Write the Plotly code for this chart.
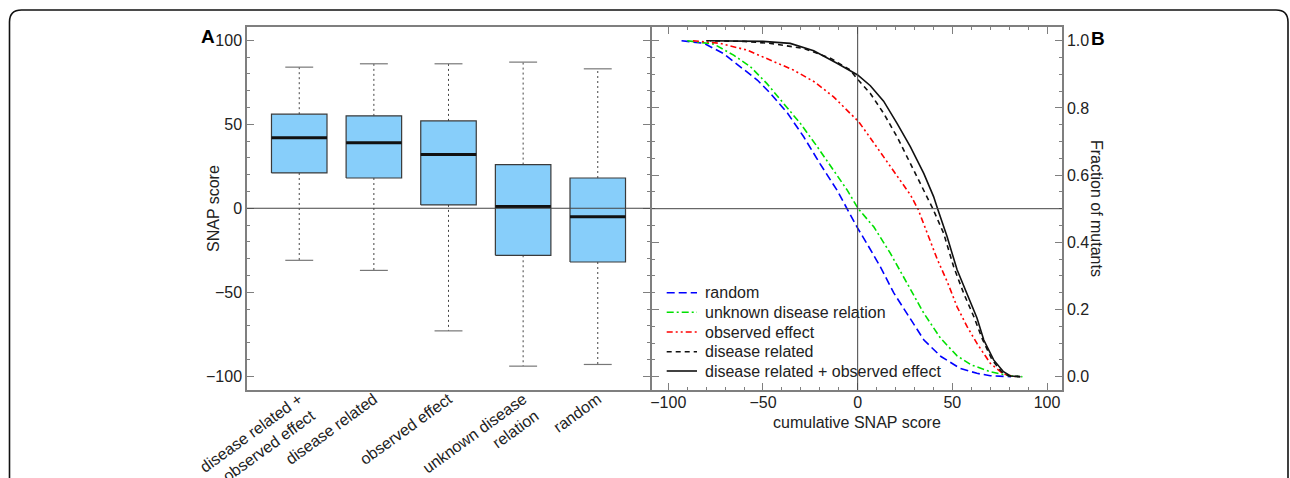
import plotly.graph_objects as go

# ---------------- data ----------------
categories = ["disease related +<br>observed effect", "disease related", "observed effect",
              "unknown disease<br>relation", "random"]
upper_whisker = [84, 86, 86, 87, 83]
q3_values = [56, 55, 52, 26, 18]
median_values = [42, 39, 32, 1, -5]
q1_values = [21, 18, 2, -28, -32]
lower_whisker = [-31, -37, -73, -94, -93]

random_x = [-93, -81, -71, -62, -53, -46, -37, -28.5, -20, -11, -5.6, 0, 5, 12, 19, 28, 35, 44, 54, 63, 70, 81]
random_f = [1.0, 0.992, 0.962, 0.923, 0.883, 0.843, 0.784, 0.714, 0.635, 0.556, 0.50, 0.442, 0.395,
            0.327, 0.250, 0.169, 0.109, 0.06, 0.025, 0.01, 0.003, 0.0]

unknown_x = [-90, -76, -65.5, -56.7, -48, -39, -30.3, -21.4, -12.7, -5.6, 0.3, 8.5, 17.3, 26.1, 34.9,
             43.7, 52.5, 60, 70, 80, 87]
unknown_f = [1.0, 0.99, 0.957, 0.923, 0.873, 0.814, 0.754, 0.685, 0.615, 0.556, 0.50, 0.446, 0.367,
             0.278, 0.189, 0.115, 0.062, 0.035, 0.015, 0.003, 0.0]

observed_x = [-87, -72.5, -58.4, -46, -34, -23, -12.7, -4, 0.5, 5, 13.7, 22.6, 28, 32, 36.7, 42, 47.5,
              52.5, 57.8, 63, 70, 77, 83]
observed_f = [1.0, 0.992, 0.972, 0.943, 0.913, 0.878, 0.833, 0.784, 0.759, 0.724, 0.655, 0.585, 0.54,
              0.497, 0.43, 0.35, 0.28, 0.208, 0.149, 0.099, 0.04, 0.008, 0.0]

disease_x = [-80, -60, -46, -28.5, -14.4, -4, 0, 6.7, 13.7, 20.8, 27.8, 34.9, 39.7, 45.4, 50.7, 56,
             61.3, 66, 71, 76, 80, 86]
disease_f = [1.0, 0.998, 0.992, 0.977, 0.948, 0.913, 0.885, 0.843, 0.784, 0.714, 0.635, 0.556, 0.50,
             0.427, 0.327, 0.248, 0.179, 0.11, 0.05, 0.015, 0.002, 0.0]

combined_x = [-78, -50, -35.6, -23.2, -10.9, 0, 6.7, 13.7, 20.8, 27.8, 34.9, 40.1, 42.2, 47.2, 52.5,
              57.8, 63, 66.6, 71.8, 77, 80.7, 86]
combined_f = [1.0, 0.998, 0.992, 0.970, 0.933, 0.898, 0.866, 0.820, 0.754, 0.685, 0.605, 0.536, 0.50,
              0.417, 0.318, 0.248, 0.175, 0.109, 0.05, 0.015, 0.002, 0.0]

legend_names = ["random", "unknown disease relation", "observed effect", "disease related",
                "disease related + observed effect"]

# ---------------- styling ----------------
FONT = "Liberation Sans, Arial, Helvetica, sans-serif"
TXT = "#222222"
AXC = "#7f7f7f"
W, H = 1290, 478
BOX_HALF = 0.372
CAP_HALF = 0.187


def px(xp):
    return xp / W


def py(yp):
    return 1 - yp / H


fig = go.Figure()

# ---------- panel A: box plot built from the quantiles ----------
positions = list(range(1, len(categories) + 1))
bx, by, mx, my, wx, wy, cx, cy = [], [], [], [], [], [], [], []
for p, lo, a, m, b, hi in zip(positions, lower_whisker, q1_values, median_values, q3_values, upper_whisker):
    bx += [p - BOX_HALF, p + BOX_HALF, p + BOX_HALF, p - BOX_HALF, p - BOX_HALF, None]
    by += [a, a, b, b, a, None]
    mx += [p - BOX_HALF, p + BOX_HALF, None]
    my += [m, m, None]
    wx += [p, p, None, p, p, None]
    wy += [b, hi, None, a, lo, None]
    cx += [p - CAP_HALF, p + CAP_HALF, None, p - CAP_HALF, p + CAP_HALF, None]
    cy += [hi, hi, None, lo, lo, None]

fig.add_trace(go.Scatter(x=wx, y=wy, mode="lines", xaxis="x", yaxis="y", showlegend=False,
                         line=dict(color="#444444", width=1, dash="2px,3px"), hoverinfo="skip"))
fig.add_trace(go.Scatter(x=cx, y=cy, mode="lines", xaxis="x", yaxis="y", showlegend=False,
                         line=dict(color="#777777", width=1.2), hoverinfo="skip"))
fig.add_trace(go.Scatter(x=bx, y=by, mode="lines", xaxis="x", yaxis="y", showlegend=False,
                         fill="toself", fillcolor="#87CEFA",
                         line=dict(color="#3a3a3a", width=1.2), hoverinfo="skip"))
fig.add_trace(go.Scatter(x=mx, y=my, mode="lines", xaxis="x", yaxis="y", showlegend=False,
                         line=dict(color="#111111", width=3), hoverinfo="skip"))

# ---------- panel B: cumulative curves ----------
styles = [("#0000FF", "8px,4px"), ("#00E000", "7px,3px,2px,3px"),
          ("#FF0000", "6px,3px,2px,3px,2px,3px"), ("#111111", "5px,4px"), ("#111111", "solid")]
series = [(random_x, random_f), (unknown_x, unknown_f), (observed_x, observed_f),
          (disease_x, disease_f), (combined_x, combined_f)]
for name, (xs, fs), (col, dash) in zip(legend_names, series, styles):
    fig.add_trace(go.Scatter(x=xs, y=fs, mode="lines", name=name, xaxis="x2", yaxis="y2",
                             showlegend=False, line=dict(color=col, width=1.6, dash=dash)))

xdomA = [247 / W, 650 / W]
xdomB = [652 / W, 1062 / W]
ydom = [1 - 390 / H, 1 - 27 / H]

tickfont = dict(family=FONT, size=16, color=TXT)

fig.update_layout(
    width=W, height=H,
    margin=dict(l=0, r=0, t=0, b=0),
    paper_bgcolor="white", plot_bgcolor="white",
    font=dict(family=FONT, size=16, color=TXT),
    showlegend=False,
    xaxis=dict(domain=xdomA, range=[0.3, 5.7], tickmode="array", tickvals=positions,
               ticktext=categories, tickangle=-36, ticks="", showgrid=False, zeroline=False,
               showline=True, linecolor=AXC, linewidth=1.5, mirror=True, tickfont=tickfont,
               ticklabelstandoff=-8, automargin=False),
    yaxis=dict(domain=ydom, range=[-108.2, 107.9], dtick=50, ticks="inside", ticklen=7,
               tickcolor=AXC, tickwidth=1.2, showgrid=False, zeroline=False,
               showline=True, linecolor=AXC, linewidth=1.5, mirror="allticks",
               minor=dict(dtick=10, ticks="inside", ticklen=3, tickcolor=AXC, showgrid=False),
               tickfont=tickfont, automargin=False),
    xaxis2=dict(domain=xdomB, anchor="y2", range=[-108.6, 107.9], dtick=50, ticks="inside", ticklen=7,
                tickcolor=AXC, tickwidth=1.2, showgrid=False, zeroline=False,
                showline=True, linecolor=AXC, linewidth=1.5, mirror="allticks",
                minor=dict(dtick=10, ticks="inside", ticklen=3, tickcolor=AXC, showgrid=False),
                tickfont=tickfont, ticklabelstandoff=-3, automargin=False),
    yaxis2=dict(domain=ydom, anchor="x2", side="right", range=[-0.0396, 1.0408], dtick=0.2,
                tickformat=".1f", ticks="inside", ticklen=7, tickcolor=AXC, tickwidth=1.2,
                showgrid=False, zeroline=False, showline=True, linecolor=AXC, linewidth=1.5,
                mirror="allticks",
                minor=dict(dtick=0.05, ticks="inside", ticklen=3, tickcolor=AXC, showgrid=False),
                tickfont=tickfont, automargin=False),
)

# reference lines
fig.add_shape(type="line", xref="x domain", yref="y", x0=0, x1=1, y0=0, y1=0,
              line=dict(color="#444444", width=1))
fig.add_shape(type="line", xref="x2 domain", yref="y2", x0=0, x1=1, y0=0.5, y1=0.5,
              line=dict(color="#444444", width=1))
fig.add_shape(type="line", xref="x2", yref="y2 domain", x0=0, x1=0, y0=0, y1=1,
              line=dict(color="#444444", width=1))

# legend (drawn manually to match compact row spacing)
legend_rows = [292.7, 312.3, 332.0, 351.7, 371.0]
for name, (col, dash), yrow in zip(legend_names, styles, legend_rows):
    fig.add_shape(type="line", xref="paper", yref="paper", x0=px(666.7), x1=px(697),
                  y0=py(yrow), y1=py(yrow), line=dict(color=col, width=1.6, dash=dash))
    fig.add_annotation(text=name, xref="paper", yref="paper", x=px(703.5), y=py(yrow),
                       xanchor="left", yanchor="middle", showarrow=False,
                       font=dict(family=FONT, size=16, color=TXT))

# outer rounded frame (paper coordinates over the whole figure)
frame = (f"M {px(9.5)},{py(478)} L {px(9.5)},{py(22)} Q {px(9.5)},{py(10)} {px(21.5)},{py(10)} "
         f"L {px(1276)},{py(10)} Q {px(1288)},{py(10)} {px(1288)},{py(22)} L {px(1288)},{py(478)}")
fig.add_shape(type="path", xref="paper", yref="paper", path=frame,
              line=dict(color="#111111", width=1.6))

# titles and panel letters
ann = dict(xref="paper", yref="paper", showarrow=False, xanchor="center", yanchor="middle")
fig.add_annotation(text="SNAP score", x=px(213), y=py(209), textangle=-90,
                   font=dict(family=FONT, size=16, color=TXT), **ann)
fig.add_annotation(text="cumulative SNAP score", x=px(857), y=py(422),
                   font=dict(family=FONT, size=16, color=TXT), **ann)
fig.add_annotation(text="Fraction of mutants", x=px(1097), y=py(208), textangle=90,
                   font=dict(family=FONT, size=16, color=TXT), **ann)
fig.add_annotation(text="<b>A</b>", x=px(207.5), y=py(37),
                   font=dict(family=FONT, size=19, color="#000000"), **ann)
fig.add_annotation(text="<b>B</b>", x=px(1097.5), y=py(38.5),
                   font=dict(family=FONT, size=19, color="#000000"), **ann)

fig.write_html(
    "out.html",
    config={"displayModeBar": False},
    post_script=("document.body.style.margin='0';document.body.style.overflow='hidden';"
                 "document.documentElement.style.overflow='hidden';"),
)
